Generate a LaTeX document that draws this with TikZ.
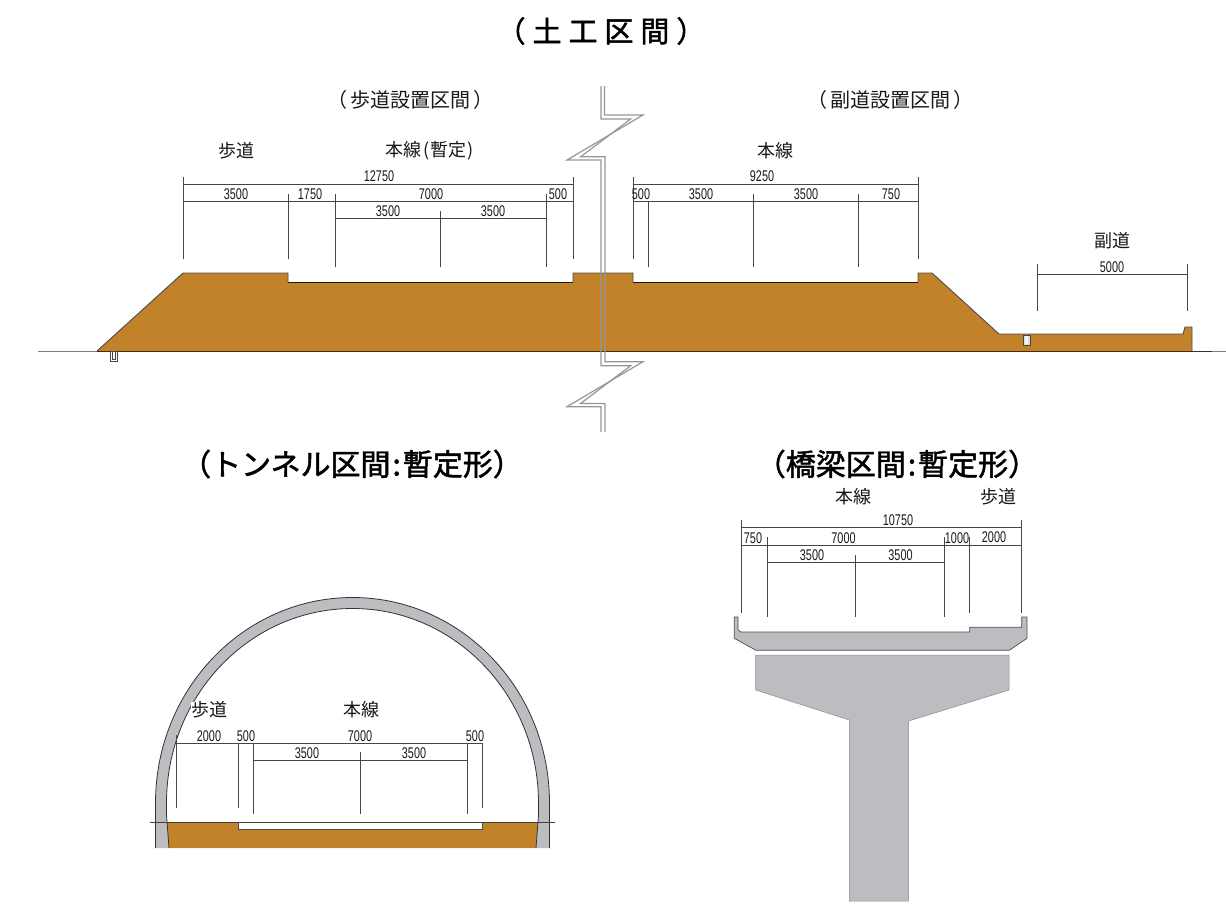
\documentclass[tikz,border=0pt]{standalone}
\usepackage{fontspec}
\setmainfont{Liberation Sans}
\newfontfamily\cjk{Noto Sans CJK JP}
\newfontfamily\cjkhead[LetterSpace=24,FakeBold=1.6]{Noto Sans CJK JP}
\newfontfamily\cjkbold[FakeBold=1.6]{Noto Sans CJK JP}
\newfontfamily\narrow[FakeStretch=0.7]{Liberation Sans}
\definecolor{soil}{RGB}{193,130,42}
\definecolor{conc}{RGB}{187,189,192}
\definecolor{dimc}{RGB}{70,70,70}
\definecolor{brk}{RGB}{150,150,150}
\tikzset{
  dimline/.style={draw=dimc,line width=1pt},
  outl/.style={draw=black!70,line width=0.9pt,line join=miter},
  num/.style={inner sep=0pt,text=black!90,font=\narrow\fontsize{15.5}{16}\selectfont},
  lab/.style={inner sep=0pt,text=black!90,font=\cjk\fontsize{18}{19}\selectfont},
  sub/.style={inner sep=0pt,text=black!90,font=\cjk\fontsize{20}{21}\selectfont},
  head/.style={inner sep=0pt,text=black,font=\cjkbold\fontsize{30}{31}\selectfont},
}
\begin{document}
\begin{tikzpicture}[x=1pt,y=-1pt]
\useasboundingbox (0,0) rectangle (1226,908);
% ---------- earthwork ----------
\draw[draw=black!50,line width=1pt] (38,351) -- (97,351) (1212,351) -- (1226,351);
\draw[draw=black!80,line width=1pt] (1192,351) -- (1212,351);
\fill[soil] (183,273) -- (288,273) -- (288,282) -- (573,282) -- (573,273) -- (633,273) -- (633,282) -- (918,282) -- (918,273) -- (932,273) -- (999,334) -- (1183,334) -- (1185,327) -- (1192,327) -- (1192,351) -- (97,351) -- cycle;
\draw[outl] (97,351) -- (183,273) -- (288,273) -- (288,282) (573,282) -- (573,273) -- (633,273) -- (633,282) (918,282) -- (918,273) -- (932,273) -- (999,334) -- (1183,334) -- (1185,327) -- (1192,327) -- (1192,351);
\draw[draw=black!90,line width=1pt] (288,282) -- (573,282) (633,282) -- (918,282);
\draw[draw=black!65!soil,line width=1pt] (97,351) -- (1192,351);
\draw[draw=dimc,line width=0.8pt,fill=white] (110,351.5) rectangle (117,361);
\draw[draw=dimc,line width=0.6pt] (112,352) -- (112,359) -- (115,359) -- (115,352);
\draw[draw=dimc,line width=0.7pt,fill=conc!50] (1023,335) rectangle (1030,345);
\draw[draw=none,fill=white!85!conc] (1025,336) rectangle (1028,343.5);
% break lines
\draw[draw=brk,line width=1.2pt,line join=miter] (604.5,86) -- (604.5,115) -- (643,115) -- (567,160) -- (601,160) -- (601,365.7) -- (630.7,365.7) -- (580.7,403.4) -- (605,403.4) -- (605,432);
\draw[draw=brk,line width=1.2pt,line join=miter] (601,86) -- (601,119) -- (630.7,119) -- (580.7,156.7) -- (605,156.7) -- (605,361.7) -- (643,361.7) -- (567,406.7) -- (601,406.7) -- (601,432);
% dimensions left
\draw[dimline] (183,184) -- (573,184) (183,201) -- (573,201) (335,218) -- (546,218)
  (183,177) -- (183,259) (288,194) -- (288,259) (335,194) -- (335,267) (440,211) -- (440,267) (546,194) -- (546,267) (573,177) -- (573,259);
% dimensions right
\draw[dimline] (633,184) -- (918,184) (633,201) -- (918,201)
  (633,177) -- (633,259) (648,201) -- (648,267) (753,194) -- (753,267) (858,194) -- (858,267) (918,177) -- (918,259)
  (1037,274) -- (1187,274) (1037,264) -- (1037,311) (1187,264) -- (1187,311);
\node[head,font=\cjkbold\fontsize{29}{30}\selectfont] (t0) at (601,31) {\cjkhead（土工区間）};
\node[sub] (t1) at (410,100) {（\kern3pt 歩道設置区間\kern3pt ）};
\node[sub] (t2) at (890,100) {（\kern3pt 副道設置区間\kern3pt ）};
\node[lab] (l1) at (236,151) {歩道};
\node[lab] (l2) at (429.5,151) {本線\kern2pt(\kern1pt 暫定\kern1pt )};
\node[lab] (l3) at (775,151) {本線};
\node[lab] (l4) at (1112,241) {副道};
\node[num] (a1) at (379,176.5) {12750};
\node[num] (a2) at (236,194) {3500};
\node[num] (a3) at (310,194) {1750};
\node[num] (a4) at (431,194) {7000};
\node[num] (a5) at (558,194) {500};
\node[num] (a6) at (388,211.5) {3500};
\node[num] (a7) at (493,211.5) {3500};
\node[num] (b1) at (762,176.5) {9250};
\node[num] (b2) at (641,194) {500};
\node[num] (b3) at (701,194) {3500};
\node[num] (b4) at (806,194) {3500};
\node[num] (b5) at (891,194) {750};
\node[num] (b6) at (1112,267) {5000};
% ---------- tunnel ----------
\fill[soil] (167,822) rectangle (538,848);
\fill[white] (238,822) rectangle (482,829);
\draw[outl] (238,822) -- (238,829) -- (482,829) -- (482,822);
\fill[conc,even odd rule]
  (155.5,848) -- (155.5,803) arc[start angle=180,end angle=360,x radius=197,y radius=205.5] -- (549.5,848) -- cycle
  (169,848) -- (166.5,815) -- (166.5,803) arc[start angle=180,end angle=360,x radius=186,y radius=194.5] -- (538.5,815) -- (536,848) -- cycle;
\draw[draw=black!80,line width=0.8pt]
  (155.5,848) -- (155.5,803) arc[start angle=180,end angle=360,x radius=197,y radius=205.5] -- (549.5,848)
  (169,848) -- (166.5,815) -- (166.5,803) arc[start angle=180,end angle=360,x radius=186,y radius=194.5] -- (538.5,815) -- (536,848);
\draw[draw=black!75,line width=0.8pt] (150,822) -- (555,822);
\draw[dimline] (176,743) -- (482,743) (253,760) -- (467,760)
  (176,735) -- (176,808) (238,743) -- (238,808) (253,743) -- (253,814) (360,752) -- (360,814) (467,743) -- (467,814) (482,743) -- (482,808);
\node[lab,fill=white] (l5) at (209,710) {歩道};
\node[lab] (l6) at (361,710) {本線};
\node[head] (t3) at (352,464) {（トンネル区間\kern2pt :\kern2pt 暫定形）};
\node[num] (c1) at (209,736) {2000};
\node[num] (c2) at (246,736) {500};
\node[num] (c3) at (360,736) {7000};
\node[num] (c4) at (475,736) {500};
\node[num] (c5) at (307,753) {3500};
\node[num] (c6) at (414,753) {3500};
% ---------- bridge ----------
\filldraw[fill=conc,draw=black!70,line width=0.7pt] (734.3,617) -- (738,617) -- (738,630) -- (740.7,632) -- (969.7,632) -- (969.7,627.3) -- (1021.7,627.3) -- (1021.7,617) -- (1027,617) -- (1027,638.3) -- (1009.3,650.3) -- (756,650.3) -- (734.3,638.3) -- cycle;
\filldraw[fill=conc,draw=black!45,line width=0.5pt] (755.7,655) -- (1009,655) -- (1009,690) -- (908.7,721) -- (908.7,901) -- (849.3,901) -- (849.3,720) -- (755.7,690) -- cycle;
\draw[dimline] (741,527.3) -- (1021.5,527.3) (741,545) -- (1021.5,545) (767,562) -- (944,562)
  (741,520) -- (741,612.5) (767,537) -- (767,617) (855.7,555) -- (855.7,617) (944,537) -- (944,617) (969,537) -- (969,612.5) (1021.5,520) -- (1021.5,612.5);
\node[head] (t4) at (897,464) {（橋梁区間\kern2pt :\kern2pt 暫定形）};
\node[lab] (l7) at (853,497) {本線};
\node[lab] (l8) at (998,497) {歩道};
\node[num] (d1) at (898,520) {10750};
\node[num] (d2) at (753,538) {750};
\node[num] (d3) at (843.5,538) {7000};
\node[num] (d4) at (957,538) {1000};
\node[num] (d5) at (994,537.5) {2000};
\node[num] (d6) at (812,555) {3500};
\node[num] (d7) at (900.5,555) {3500};
\end{tikzpicture}
\end{document}
